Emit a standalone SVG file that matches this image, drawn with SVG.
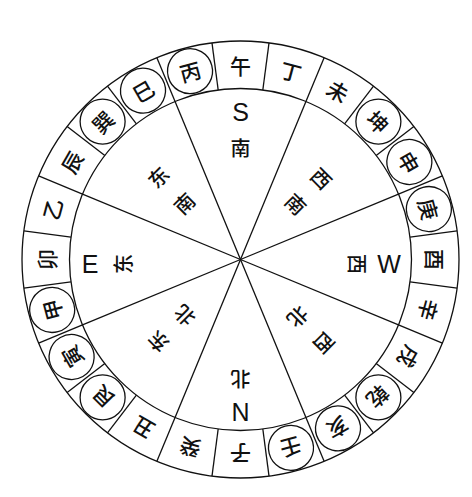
<svg xmlns="http://www.w3.org/2000/svg" width="472" height="497" viewBox="0 0 472 497">
<style>
.ln{stroke:#111;stroke-width:1.3;fill:none}
.cj{font-family:"Noto Sans CJK SC","Noto Sans CJK TC",sans-serif;font-size:21px;font-weight:500;fill:#111;text-anchor:middle;dominant-baseline:central}
.ci{font-family:"Noto Sans CJK SC","Noto Sans CJK TC",sans-serif;font-size:20px;font-weight:500;fill:#111;text-anchor:middle;dominant-baseline:central}
.la{font-family:"Liberation Sans",Arial,sans-serif;font-size:25px;fill:#111;text-anchor:middle;dominant-baseline:central}
</style>
<defs>
<line id="seg" class="ln" x1="240.5" y1="41" x2="240.5" y2="88.5"/>
<line id="sec" class="ln" x1="240.5" y1="259.5" x2="240.5" y2="88.5"/>
<circle id="rc" class="ln" cx="240.5" cy="64.5" r="22.5"/>
</defs>
<rect width="472" height="497" fill="#fff"/>
<g id="rings">
<circle class="ln" cx="240.5" cy="259.5" r="218.5"/>
<circle class="ln" cx="240.5" cy="259.5" r="171"/>
</g>
<g id="connectors">
<use href="#seg" transform="rotate(7.5 240.5 259.5)"/>
<use href="#seg" transform="rotate(22.5 240.5 259.5)"/>
<use href="#seg" transform="rotate(37.5 240.5 259.5)"/>
<use href="#seg" transform="rotate(52.5 240.5 259.5)"/>
<use href="#seg" transform="rotate(67.5 240.5 259.5)"/>
<use href="#seg" transform="rotate(82.5 240.5 259.5)"/>
<use href="#seg" transform="rotate(97.5 240.5 259.5)"/>
<use href="#seg" transform="rotate(112.5 240.5 259.5)"/>
<use href="#seg" transform="rotate(127.5 240.5 259.5)"/>
<use href="#seg" transform="rotate(142.5 240.5 259.5)"/>
<use href="#seg" transform="rotate(157.5 240.5 259.5)"/>
<use href="#seg" transform="rotate(172.5 240.5 259.5)"/>
<use href="#seg" transform="rotate(187.5 240.5 259.5)"/>
<use href="#seg" transform="rotate(202.5 240.5 259.5)"/>
<use href="#seg" transform="rotate(217.5 240.5 259.5)"/>
<use href="#seg" transform="rotate(232.5 240.5 259.5)"/>
<use href="#seg" transform="rotate(247.5 240.5 259.5)"/>
<use href="#seg" transform="rotate(262.5 240.5 259.5)"/>
<use href="#seg" transform="rotate(277.5 240.5 259.5)"/>
<use href="#seg" transform="rotate(292.5 240.5 259.5)"/>
<use href="#seg" transform="rotate(307.5 240.5 259.5)"/>
<use href="#seg" transform="rotate(322.5 240.5 259.5)"/>
<use href="#seg" transform="rotate(337.5 240.5 259.5)"/>
<use href="#seg" transform="rotate(352.5 240.5 259.5)"/>
<use href="#sec" transform="rotate(22.5 240.5 259.5)"/>
<use href="#sec" transform="rotate(67.5 240.5 259.5)"/>
<use href="#sec" transform="rotate(112.5 240.5 259.5)"/>
<use href="#sec" transform="rotate(157.5 240.5 259.5)"/>
<use href="#sec" transform="rotate(202.5 240.5 259.5)"/>
<use href="#sec" transform="rotate(247.5 240.5 259.5)"/>
<use href="#sec" transform="rotate(292.5 240.5 259.5)"/>
<use href="#sec" transform="rotate(337.5 240.5 259.5)"/>
</g>
<g id="m-wu" transform="rotate(0 240.5 259.5)"><text class="cj" x="240.5" y="64.5">午</text></g>
<g id="m-ding" transform="rotate(15 240.5 259.5)"><text class="cj" x="240.5" y="64.5">丁</text></g>
<g id="m-wei" transform="rotate(30 240.5 259.5)"><text class="cj" x="240.5" y="64.5">未</text></g>
<g id="m-kun" transform="rotate(45 240.5 259.5)"><use href="#rc"/><text class="cj" x="240.5" y="64.5">坤</text></g>
<g id="m-shen" transform="rotate(60 240.5 259.5)"><use href="#rc"/><text class="cj" x="240.5" y="64.5">申</text></g>
<g id="m-geng" transform="rotate(75 240.5 259.5)"><use href="#rc"/><text class="cj" x="240.5" y="64.5">庚</text></g>
<g id="m-you" transform="rotate(90 240.5 259.5)"><text class="cj" x="240.5" y="64.5">酉</text></g>
<g id="m-xin" transform="rotate(105 240.5 259.5)"><text class="cj" x="240.5" y="64.5">辛</text></g>
<g id="m-xu" transform="rotate(120 240.5 259.5)"><text class="cj" x="240.5" y="64.5">戌</text></g>
<g id="m-qian" transform="rotate(135 240.5 259.5)"><use href="#rc"/><text class="cj" x="240.5" y="64.5">乾</text></g>
<g id="m-hai" transform="rotate(150 240.5 259.5)"><use href="#rc"/><text class="cj" x="240.5" y="64.5">亥</text></g>
<g id="m-ren" transform="rotate(165 240.5 259.5)"><use href="#rc"/><text class="cj" x="240.5" y="64.5">壬</text></g>
<g id="m-zi" transform="rotate(180 240.5 259.5)"><text class="cj" x="240.5" y="64.5">子</text></g>
<g id="m-gui" transform="rotate(195 240.5 259.5)"><text class="cj" x="240.5" y="64.5">癸</text></g>
<g id="m-chou" transform="rotate(210 240.5 259.5)"><text class="cj" x="240.5" y="64.5">丑</text></g>
<g id="m-gen" transform="rotate(225 240.5 259.5)"><use href="#rc"/><text class="cj" x="240.5" y="64.5">艮</text></g>
<g id="m-yin" transform="rotate(240 240.5 259.5)"><use href="#rc"/><text class="cj" x="240.5" y="64.5">寅</text></g>
<g id="m-jia" transform="rotate(255 240.5 259.5)"><use href="#rc"/><text class="cj" x="240.5" y="64.5">甲</text></g>
<g id="m-mao" transform="rotate(270 240.5 259.5)"><text class="cj" x="240.5" y="64.5">卯</text></g>
<g id="m-yi" transform="rotate(285 240.5 259.5)"><text class="cj" x="240.5" y="64.5">乙</text></g>
<g id="m-chen" transform="rotate(300 240.5 259.5)"><text class="cj" x="240.5" y="64.5">辰</text></g>
<g id="m-xun" transform="rotate(315 240.5 259.5)"><use href="#rc"/><text class="cj" x="240.5" y="64.5">巽</text></g>
<g id="m-si" transform="rotate(330 240.5 259.5)"><use href="#rc"/><text class="cj" x="240.5" y="64.5">巳</text></g>
<g id="m-bing" transform="rotate(345 240.5 259.5)"><use href="#rc"/><text class="cj" x="240.5" y="64.5">丙</text></g>
<g id="d-south"><text class="la" x="240.5" y="112">S</text><text class="ci" x="240.5" y="147">南</text></g>
<g id="d-north"><text class="la" x="240.5" y="412">N</text><text class="ci" x="240.5" y="379" transform="rotate(180 240.5 379)">北</text></g>
<g id="d-east"><text class="la" x="90" y="264">E</text><text class="ci" x="122" y="264" transform="rotate(-90 122 264)">东</text></g>
<g id="d-west"><text class="la" x="389" y="264">W</text><text class="ci" x="357" y="264" transform="rotate(90 357 264)">西</text></g>
<g id="d-se" transform="rotate(-45 240.5 259.5)"><text class="ci" x="240.5" y="142.5">东</text><text class="ci" x="240.5" y="179.5">南</text></g>
<g id="d-sw" transform="rotate(45 240.5 259.5)"><text class="ci" x="240.5" y="144.5">西</text><text class="ci" x="240.5" y="180.5">南</text></g>
<g id="d-ne" transform="rotate(225 240.5 259.5)"><text class="ci" x="240.5" y="142.5">东</text><text class="ci" x="240.5" y="179.5">北</text></g>
<g id="d-nw" transform="rotate(135 240.5 259.5)"><text class="ci" x="240.5" y="140.5">西</text><text class="ci" x="240.5" y="177.5">北</text></g>
</svg>
